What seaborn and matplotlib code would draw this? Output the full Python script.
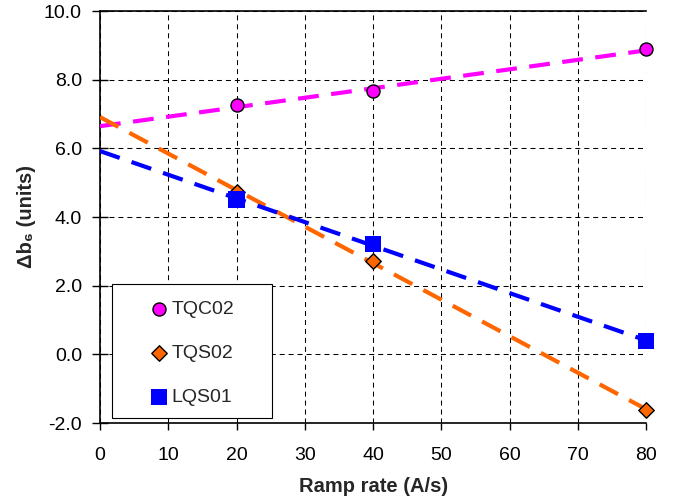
import numpy as np
import pandas as pd
import seaborn as sns
import matplotlib
matplotlib.use("Agg")
import matplotlib.pyplot as plt
from matplotlib.patches import Rectangle
from matplotlib.ticker import FormatStrFormatter, MultipleLocator

# ramp rate (A/s) and delta b6 (units) per magnet
ramp = [20, 40, 80]
tqc02 = [7.25, 7.67, 8.88]
tqs02 = [4.74, 2.72, -1.62]
lqs01 = [4.51, 3.21, 0.39]

names = ["TQC02", "TQS02", "LQS01"]
colors = ["#FF00FF", "#FF6600", "#0000FF"]
markers = ["o", "D", "s"]

df = pd.DataFrame({"ramp": ramp * 3,
                   "db6": tqc02 + tqs02 + lqs01,
                   "magnet": np.repeat(names, len(ramp))})

sns.set_style("white")
plt.rcParams["font.family"] = ["Liberation Sans", "DejaVu Sans"]
plt.rcParams["axes.unicode_minus"] = False

fig = plt.figure(figsize=(6.78, 5.0), dpi=100)
ax = fig.add_axes([0.1475, 0.154, 0.8055, 0.824])
ax.set_xlim(0, 80)
ax.set_ylim(-2, 10)

# linear fits over the full range
for name, col in zip(names, colors):
    sub = df[df.magnet == name]
    sns.regplot(data=sub, x="ramp", y="db6", ax=ax, scatter=False, ci=None,
                truncate=False, color=col,
                line_kws=dict(lw=3.0, ls=(0, (5, 3)), zorder=3))

sizes = {"TQC02": 88, "TQS02": 62, "LQS01": 135}
edges = {"TQC02": "black", "TQS02": "black", "LQS01": "none"}
for name, col, m in zip(names, colors, markers):
    sub = df[df.magnet == name]
    ax.scatter(sub.ramp, sub.db6, s=sizes[name], marker=m, c=col,
               edgecolors=edges[name], linewidths=1, zorder=4,
               clip_on=False, label=name)

ax.xaxis.set_major_locator(MultipleLocator(10))
ax.yaxis.set_major_locator(MultipleLocator(2))
ax.yaxis.set_major_formatter(FormatStrFormatter("%.1f"))
ax.grid(True, color="black", lw=0.75, ls=(0, (4.8, 3.8)))
ax.set_axisbelow(True)
ax.spines["right"].set_visible(False)
for s in ["left", "bottom", "top"]:
    ax.spines[s].set_color("black")
    ax.spines[s].set_linewidth(1.2)
ax.tick_params(axis="x", direction="out", length=5, width=1,
               labelsize=14, pad=12, bottom=True, colors="black")
ax.tick_params(axis="y", direction="inout", length=11, width=1,
               labelsize=14, pad=7.5, left=True, colors="black")

ax.set_xlabel("Ramp rate (A/s)", fontsize=14.5, fontweight="bold", labelpad=10)
ax.set_ylabel("Δb₆ (units)", fontsize=14.5, fontweight="bold", labelpad=5.5)

# legend box
ax.add_patch(Rectangle((0.022, 0.012), 0.293, 0.325, transform=ax.transAxes,
                       facecolor="white", edgecolor="black", lw=0.8, zorder=5))
leg = ax.legend(loc="center", bbox_to_anchor=(0.17, 0.169),
                fontsize=14, frameon=False, labelspacing=1.35,
                handletextpad=0.25, borderpad=0, handlelength=0.8)
leg.set_zorder(6)

fig.savefig("out.png", dpi=100)
